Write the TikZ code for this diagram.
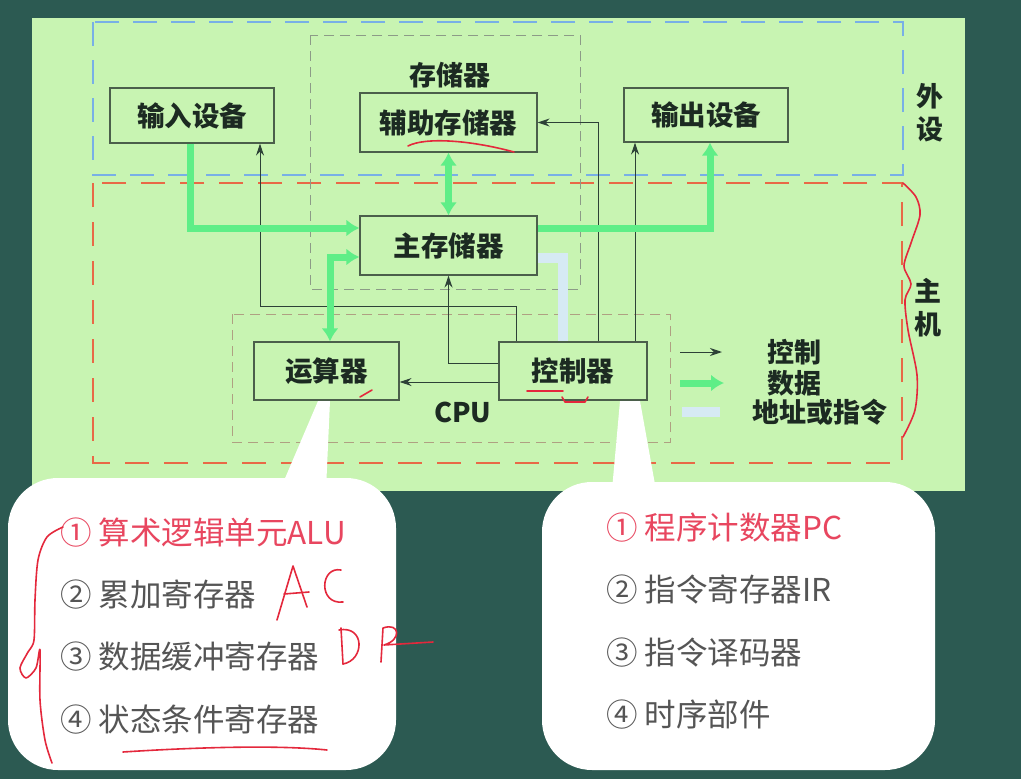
\documentclass[tikz,border=0pt]{standalone}
\usepackage{fontspec}
\usetikzlibrary{arrows.meta}
\newfontfamily\cjk{Noto Sans CJK SC}
\definecolor{bgdark}{RGB}{44,90,82}
\definecolor{panel}{RGB}{200,244,178}
\definecolor{boxc}{RGB}{75,95,75}
\definecolor{txt}{RGB}{28,42,34}
\definecolor{blued}{RGB}{120,175,230}
\definecolor{redd}{RGB}{232,105,70}
\definecolor{grayd}{RGB}{140,155,135}
\definecolor{cpud}{RGB}{175,160,130}
\definecolor{datac}{RGB}{95,238,135}
\definecolor{addrc}{RGB}{214,234,244}
\definecolor{ctrlc}{RGB}{45,65,55}
\definecolor{redtxt}{RGB}{232,70,95}
\definecolor{graytxt}{RGB}{85,85,85}
\definecolor{ink}{RGB}{228,40,60}
\begin{document}
\begin{tikzpicture}[x=1pt,y=-1pt,
 box/.style={draw=boxc,line width=1.1pt,inner sep=0pt,text=txt,font=\cjk\bfseries\fontsize{27.5}{32}\selectfont},
 lbl/.style={inner sep=0pt,text=txt,font=\cjk\bfseries\fontsize{27}{33}\selectfont,align=center},
 ctrl/.style={draw=ctrlc,line width=1pt,-{Stealth[length=12pt,width=8pt]}},
 dataarrow/.style={draw=datac,line width=7pt,-{Latex[length=13pt,width=17pt]}},
 databoth/.style={draw=datac,line width=7pt,{Latex[length=13pt,width=17pt]}-{Latex[length=13pt,width=17pt]}},
 addrline/.style={draw=addrc,line width=10pt},
 frameblue/.style={draw=blued,line width=2.2pt,dash pattern=on 24pt off 14pt},
 framered/.style={draw=redd,line width=2.2pt,dash pattern=on 24pt off 15pt},
 framegray/.style={draw=grayd,line width=1pt,dash pattern=on 10pt off 6pt},
 framecpu/.style={draw=cpud,line width=1pt,dash pattern=on 10pt off 6pt},
 calltxt/.style={anchor=west,inner sep=0pt,text=graytxt,font=\cjk\fontsize{31.5}{36}\selectfont},
 handink/.style={draw=ink,line width=1.6pt,line cap=round,line join=round}
]
\useasboundingbox (0,0) rectangle (1021,779);
\fill[bgdark] (0,0) rectangle (1021,779);
\fill[panel] (32,18) rectangle (965,491);

% frames
\draw[frameblue] (93,22) rectangle (903,175);
\draw[framered] (93,183) rectangle (902,463);
\draw[framegray] (310,35) rectangle (580,289);
\draw[framecpu] (232,314) rectangle (670,442);

% nodes
\node[box,minimum width=164pt,minimum height=55pt] (in) at (192,115.5) {输入设备};
\node[box,minimum width=177pt,minimum height=59pt] (aux) at (448.5,122.5) {辅助存储器};
\node[box,minimum width=164pt,minimum height=54pt] (out) at (706,115) {输出设备};
\node[box,minimum width=177pt,minimum height=59pt] (mm) at (448.5,245.5) {主存储器};
\node[box,minimum width=145pt,minimum height=58pt] (alu) at (326.5,371) {运算器};
\node[box,minimum width=148pt,minimum height=58pt] (cu) at (573,371) {控制器};
\node[lbl] (memlbl) at (450,75) {存储器};
\node[lbl] (cpulbl) at (463,412) {CPU};
\node[lbl] (ws) at (930,113) {外\\设};
\node[lbl] (zj) at (928,308) {主\\机};

% address line
\draw[addrline] ([yshift=-12pt]mm.east) -| ([xshift=-10pt]cu.north);

% control lines
\draw[ctrl] ([xshift=18pt]cu.north west) -- ++(0,-35) -| ([xshift=68pt]in.south);
\draw[ctrl] ([yshift=8pt]cu.west) -| (mm.south);
\draw[ctrl] ([yshift=-11pt]cu.west) -- ([yshift=-11pt]alu.east);
\draw[ctrl] ([xshift=25pt]cu.north) |- (aux.east);
\draw[ctrl] ([xshift=62pt]cu.north) -- ([xshift=-71pt]out.south);

% data lines
\draw[dataarrow] ([xshift=-2pt]in.south) |- ([yshift=17.5pt]mm.west);
\draw[databoth] (aux.south) -- (mm.north);
\draw[dataarrow] ([yshift=17.5pt]mm.east) -| ([xshift=4pt]out.south);
\draw[databoth] ([yshift=-11.5pt]mm.west) -| ([xshift=3.5pt]alu.north);

% legend
\coordinate (l1a) at (680,352); \coordinate (l1b) at (722,352);
\coordinate (l2a) at (680,383); \coordinate (l2b) at (724,383);
\coordinate (l3a) at (682,412); \coordinate (l3b) at (720,412);
\draw[ctrl] (l1a) -- (l1b);
\draw[dataarrow] (l2a) -- (l2b);
\draw[addrline] (l3a) -- (l3b);
\node[lbl,anchor=west] (lg1) at (767,352) {控制};
\node[lbl,anchor=west] (lg2) at (767,383) {数据};
\node[lbl,anchor=west] (lg3) at (752,412) {地址或指令};

% callouts
\fill[white,rounded corners=50pt] (8,478) rectangle (396,770);
\fill[white] (318,401) -- (330,401) -- (326,490) -- (280,490) -- cycle;
\fill[white,rounded corners=50pt] (542,482) rectangle (935,770);
\fill[white] (620,401) -- (640,401) -- (656,490) -- (612,490) -- cycle;

\node[calltxt,text=redtxt] (a1) at (60,533) {① 算术逻辑单元ALU};
\node[calltxt] (a2) at (60,595) {② 累加寄存器};
\node[calltxt] (a3) at (60,657) {③ 数据缓冲寄存器};
\node[calltxt] (a4) at (60,720) {④ 状态条件寄存器};
\node[calltxt,text=redtxt] (b1) at (606,528) {① 程序计数器PC};
\node[calltxt] (b2) at (606,590) {② 指令寄存器IR};
\node[calltxt] (b3) at (606,653) {③ 指令译码器};
\node[calltxt] (b4) at (606,715) {④ 时序部件};

% handwritten marks
\draw[handink] (408,146) .. controls (425,137) and (470,140) .. (514,152);
\draw[handink] (527,391) -- (563,391);
\draw[handink] (562,397) -- (565,402) -- (585,402) -- (588,397);
\draw[handink] (360,397) -- (372,390);
\draw[handink] plot[smooth] coordinates {(903,183) (916,197) (920,215) (911,243) (904,266) (911,284) (905,300) (908,330) (917,375) (915,410) (903,437)};
\draw[handink] plot[smooth] coordinates {(63,527) (47,537) (38,560) (35,600) (34,640) (28,652) (20,668) (26,678) (36,668) (40,650) (40,700) (45,740) (52,763)};
\draw[handink] (123,752) .. controls (200,747) and (280,745) .. (327,750);
% AC
\draw[handink] (277,620) -- (293,566) -- (307,607);
\draw[handink] (284,594) -- (309,592);
\draw[handink] (341,570) .. controls (320,566) and (318,605) .. (343,602);
% DR
\draw[handink] (341,628) -- (343,664);
\draw[handink] (339,630) .. controls (365,625) and (365,660) .. (343,664);
\draw[handink] (381,662) -- (383,628) .. controls (400,622) and (402,640) .. (384,645) -- (433,642);
\end{tikzpicture}
\end{document}
